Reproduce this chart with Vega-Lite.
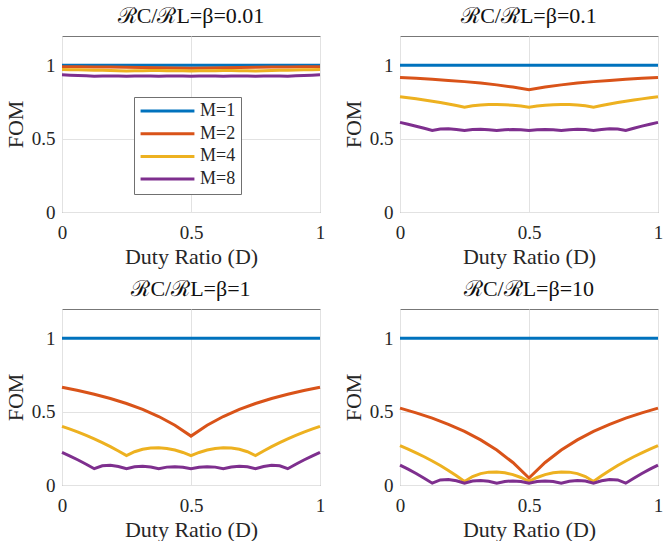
{
  "$schema": "https://vega.github.io/schema/vega-lite/v6.json",
  "padding": {"left": 3, "top": 4, "right": 0, "bottom": 0},
  "config": {
    "font": "Liberation Serif",
    "style": {"guide-label": {"font": "Liberation Serif", "fontSize": 19}, "guide-title": {"font": "Liberation Serif"}},
    "view": {"stroke": "#777777", "strokeWidth": 1},
    "axis": {
      "grid": true, "gridColor": "#e2e2e2", "gridWidth": 1,
      "ticks": false, "tickSize": 0, "domain": false,
      "labelFont": "Liberation Serif", "labelFontSize": 19, "labelColor": "#262626",
      "labelFlush": false, "labelOverlap": false, "format": "~g",
      "titleFont": "Liberation Serif", "titleFontSize": 22, "titleFontWeight": "normal", "titleColor": "#262626"
    },
    "axisX": {"labelPadding": 11, "titlePadding": 4, "labelFont": "Liberation Serif"},
    "axisY": {"labelPadding": 7, "titlePadding": 4, "labelFont": "Liberation Serif"},
    "title": {"font": "Liberation Serif", "fontSize": 22, "fontWeight": "normal", "color": "#111111", "offset": 8, "frame": "group", "anchor": "middle"}
  },
  "spacing": {"row": 9, "column": 14},
  "columns": 2,
  "data": {"name": "d"},
  "datasets": {
    "d": [
      {"b":0.01,"M":"M=1","D":0,"F":1},{"b":0.01,"M":"M=1","D":1,"F":1},
      {"b":0.01,"M":"M=2","D":0,"F":0.9902},{"b":0.01,"M":"M=2","D":0.0625,"F":0.9895},{"b":0.01,"M":"M=2","D":0.125,"F":0.9888},{"b":0.01,"M":"M=2","D":0.1875,"F":0.9879},{"b":0.01,"M":"M=2","D":0.25,"F":0.9869},{"b":0.01,"M":"M=2","D":0.3125,"F":0.9857},{"b":0.01,"M":"M=2","D":0.375,"F":0.9843},{"b":0.01,"M":"M=2","D":0.4375,"F":0.9826},{"b":0.01,"M":"M=2","D":0.5,"F":0.9804},{"b":0.01,"M":"M=2","D":0.5625,"F":0.9826},{"b":0.01,"M":"M=2","D":0.625,"F":0.9843},{"b":0.01,"M":"M=2","D":0.6875,"F":0.9857},{"b":0.01,"M":"M=2","D":0.75,"F":0.9869},{"b":0.01,"M":"M=2","D":0.8125,"F":0.9879},{"b":0.01,"M":"M=2","D":0.875,"F":0.9888},{"b":0.01,"M":"M=2","D":0.9375,"F":0.9895},{"b":0.01,"M":"M=2","D":1,"F":0.9902},
      {"b":0.01,"M":"M=4","D":0,"F":0.9712},{"b":0.01,"M":"M=4","D":0.03125,"F":0.9702},{"b":0.01,"M":"M=4","D":0.0625,"F":0.9692},{"b":0.01,"M":"M=4","D":0.09375,"F":0.9682},{"b":0.01,"M":"M=4","D":0.125,"F":0.967},{"b":0.01,"M":"M=4","D":0.15625,"F":0.9658},{"b":0.01,"M":"M=4","D":0.1875,"F":0.9645},{"b":0.01,"M":"M=4","D":0.21875,"F":0.9631},{"b":0.01,"M":"M=4","D":0.25,"F":0.9615},{"b":0.01,"M":"M=4","D":0.28125,"F":0.9628},{"b":0.01,"M":"M=4","D":0.3125,"F":0.9636},{"b":0.01,"M":"M=4","D":0.34375,"F":0.964},{"b":0.01,"M":"M=4","D":0.375,"F":0.9641},{"b":0.01,"M":"M=4","D":0.40625,"F":0.9639},{"b":0.01,"M":"M=4","D":0.4375,"F":0.9634},{"b":0.01,"M":"M=4","D":0.46875,"F":0.9626},{"b":0.01,"M":"M=4","D":0.5,"F":0.9615},{"b":0.01,"M":"M=4","D":0.53125,"F":0.9626},{"b":0.01,"M":"M=4","D":0.5625,"F":0.9634},{"b":0.01,"M":"M=4","D":0.59375,"F":0.9639},{"b":0.01,"M":"M=4","D":0.625,"F":0.9641},{"b":0.01,"M":"M=4","D":0.65625,"F":0.964},{"b":0.01,"M":"M=4","D":0.6875,"F":0.9636},{"b":0.01,"M":"M=4","D":0.71875,"F":0.9628},{"b":0.01,"M":"M=4","D":0.75,"F":0.9615},{"b":0.01,"M":"M=4","D":0.78125,"F":0.9631},{"b":0.01,"M":"M=4","D":0.8125,"F":0.9645},{"b":0.01,"M":"M=4","D":0.84375,"F":0.9658},{"b":0.01,"M":"M=4","D":0.875,"F":0.967},{"b":0.01,"M":"M=4","D":0.90625,"F":0.9682},{"b":0.01,"M":"M=4","D":0.9375,"F":0.9692},{"b":0.01,"M":"M=4","D":0.96875,"F":0.9702},{"b":0.01,"M":"M=4","D":1,"F":0.9712},
      {"b":0.01,"M":"M=8","D":0,"F":0.9352},{"b":0.01,"M":"M=8","D":0.03125,"F":0.9331},{"b":0.01,"M":"M=8","D":0.0625,"F":0.9309},{"b":0.01,"M":"M=8","D":0.09375,"F":0.9285},{"b":0.01,"M":"M=8","D":0.125,"F":0.9259},{"b":0.01,"M":"M=8","D":0.15625,"F":0.9276},{"b":0.01,"M":"M=8","D":0.1875,"F":0.9278},{"b":0.01,"M":"M=8","D":0.21875,"F":0.9272},{"b":0.01,"M":"M=8","D":0.25,"F":0.9259},{"b":0.01,"M":"M=8","D":0.28125,"F":0.927},{"b":0.01,"M":"M=8","D":0.3125,"F":0.9273},{"b":0.01,"M":"M=8","D":0.34375,"F":0.9269},{"b":0.01,"M":"M=8","D":0.375,"F":0.9259},{"b":0.01,"M":"M=8","D":0.40625,"F":0.9268},{"b":0.01,"M":"M=8","D":0.4375,"F":0.9271},{"b":0.01,"M":"M=8","D":0.46875,"F":0.9268},{"b":0.01,"M":"M=8","D":0.5,"F":0.9259},{"b":0.01,"M":"M=8","D":0.53125,"F":0.9268},{"b":0.01,"M":"M=8","D":0.5625,"F":0.9271},{"b":0.01,"M":"M=8","D":0.59375,"F":0.9268},{"b":0.01,"M":"M=8","D":0.625,"F":0.9259},{"b":0.01,"M":"M=8","D":0.65625,"F":0.9269},{"b":0.01,"M":"M=8","D":0.6875,"F":0.9273},{"b":0.01,"M":"M=8","D":0.71875,"F":0.927},{"b":0.01,"M":"M=8","D":0.75,"F":0.9259},{"b":0.01,"M":"M=8","D":0.78125,"F":0.9272},{"b":0.01,"M":"M=8","D":0.8125,"F":0.9278},{"b":0.01,"M":"M=8","D":0.84375,"F":0.9276},{"b":0.01,"M":"M=8","D":0.875,"F":0.9259},{"b":0.01,"M":"M=8","D":0.90625,"F":0.9285},{"b":0.01,"M":"M=8","D":0.9375,"F":0.9309},{"b":0.01,"M":"M=8","D":0.96875,"F":0.9331},{"b":0.01,"M":"M=8","D":1,"F":0.9352},

      {"b":0.1,"M":"M=1","D":0,"F":1},{"b":0.1,"M":"M=1","D":1,"F":1},
      {"b":0.1,"M":"M=2","D":0,"F":0.9167},{"b":0.1,"M":"M=2","D":0.0625,"F":0.9111},{"b":0.1,"M":"M=2","D":0.125,"F":0.9048},{"b":0.1,"M":"M=2","D":0.1875,"F":0.8974},{"b":0.1,"M":"M=2","D":0.25,"F":0.8889},{"b":0.1,"M":"M=2","D":0.3125,"F":0.8788},{"b":0.1,"M":"M=2","D":0.375,"F":0.8667},{"b":0.1,"M":"M=2","D":0.4375,"F":0.8519},{"b":0.1,"M":"M=2","D":0.5,"F":0.8333},{"b":0.1,"M":"M=2","D":0.5625,"F":0.8519},{"b":0.1,"M":"M=2","D":0.625,"F":0.8667},{"b":0.1,"M":"M=2","D":0.6875,"F":0.8788},{"b":0.1,"M":"M=2","D":0.75,"F":0.8889},{"b":0.1,"M":"M=2","D":0.8125,"F":0.8974},{"b":0.1,"M":"M=2","D":0.875,"F":0.9048},{"b":0.1,"M":"M=2","D":0.9375,"F":0.9111},{"b":0.1,"M":"M=2","D":1,"F":0.9167},
      {"b":0.1,"M":"M=4","D":0,"F":0.7857},{"b":0.1,"M":"M=4","D":0.03125,"F":0.7788},{"b":0.1,"M":"M=4","D":0.0625,"F":0.7714},{"b":0.1,"M":"M=4","D":0.09375,"F":0.7635},{"b":0.1,"M":"M=4","D":0.125,"F":0.7551},{"b":0.1,"M":"M=4","D":0.15625,"F":0.746},{"b":0.1,"M":"M=4","D":0.1875,"F":0.7363},{"b":0.1,"M":"M=4","D":0.21875,"F":0.7257},{"b":0.1,"M":"M=4","D":0.25,"F":0.7143},{"b":0.1,"M":"M=4","D":0.28125,"F":0.724},{"b":0.1,"M":"M=4","D":0.3125,"F":0.7299},{"b":0.1,"M":"M=4","D":0.34375,"F":0.7328},{"b":0.1,"M":"M=4","D":0.375,"F":0.7333},{"b":0.1,"M":"M=4","D":0.40625,"F":0.7316},{"b":0.1,"M":"M=4","D":0.4375,"F":0.7279},{"b":0.1,"M":"M=4","D":0.46875,"F":0.7221},{"b":0.1,"M":"M=4","D":0.5,"F":0.7143},{"b":0.1,"M":"M=4","D":0.53125,"F":0.7221},{"b":0.1,"M":"M=4","D":0.5625,"F":0.7279},{"b":0.1,"M":"M=4","D":0.59375,"F":0.7316},{"b":0.1,"M":"M=4","D":0.625,"F":0.7333},{"b":0.1,"M":"M=4","D":0.65625,"F":0.7328},{"b":0.1,"M":"M=4","D":0.6875,"F":0.7299},{"b":0.1,"M":"M=4","D":0.71875,"F":0.724},{"b":0.1,"M":"M=4","D":0.75,"F":0.7143},{"b":0.1,"M":"M=4","D":0.78125,"F":0.7257},{"b":0.1,"M":"M=4","D":0.8125,"F":0.7363},{"b":0.1,"M":"M=4","D":0.84375,"F":0.746},{"b":0.1,"M":"M=4","D":0.875,"F":0.7551},{"b":0.1,"M":"M=4","D":0.90625,"F":0.7635},{"b":0.1,"M":"M=4","D":0.9375,"F":0.7714},{"b":0.1,"M":"M=4","D":0.96875,"F":0.7788},{"b":0.1,"M":"M=4","D":1,"F":0.7857},
      {"b":0.1,"M":"M=8","D":0,"F":0.6111},{"b":0.1,"M":"M=8","D":0.03125,"F":0.5986},{"b":0.1,"M":"M=8","D":0.0625,"F":0.5852},{"b":0.1,"M":"M=8","D":0.09375,"F":0.5709},{"b":0.1,"M":"M=8","D":0.125,"F":0.5556},{"b":0.1,"M":"M=8","D":0.15625,"F":0.5654},{"b":0.1,"M":"M=8","D":0.1875,"F":0.567},{"b":0.1,"M":"M=8","D":0.21875,"F":0.5632},{"b":0.1,"M":"M=8","D":0.25,"F":0.5556},{"b":0.1,"M":"M=8","D":0.28125,"F":0.562},{"b":0.1,"M":"M=8","D":0.3125,"F":0.5636},{"b":0.1,"M":"M=8","D":0.34375,"F":0.5613},{"b":0.1,"M":"M=8","D":0.375,"F":0.5556},{"b":0.1,"M":"M=8","D":0.40625,"F":0.561},{"b":0.1,"M":"M=8","D":0.4375,"F":0.5626},{"b":0.1,"M":"M=8","D":0.46875,"F":0.5608},{"b":0.1,"M":"M=8","D":0.5,"F":0.5556},{"b":0.1,"M":"M=8","D":0.53125,"F":0.5608},{"b":0.1,"M":"M=8","D":0.5625,"F":0.5626},{"b":0.1,"M":"M=8","D":0.59375,"F":0.561},{"b":0.1,"M":"M=8","D":0.625,"F":0.5556},{"b":0.1,"M":"M=8","D":0.65625,"F":0.5613},{"b":0.1,"M":"M=8","D":0.6875,"F":0.5636},{"b":0.1,"M":"M=8","D":0.71875,"F":0.562},{"b":0.1,"M":"M=8","D":0.75,"F":0.5556},{"b":0.1,"M":"M=8","D":0.78125,"F":0.5632},{"b":0.1,"M":"M=8","D":0.8125,"F":0.567},{"b":0.1,"M":"M=8","D":0.84375,"F":0.5654},{"b":0.1,"M":"M=8","D":0.875,"F":0.5556},{"b":0.1,"M":"M=8","D":0.90625,"F":0.5709},{"b":0.1,"M":"M=8","D":0.9375,"F":0.5852},{"b":0.1,"M":"M=8","D":0.96875,"F":0.5986},{"b":0.1,"M":"M=8","D":1,"F":0.6111},

      {"b":1,"M":"M=1","D":0,"F":1},{"b":1,"M":"M=1","D":1,"F":1},
      {"b":1,"M":"M=2","D":0,"F":0.6667},{"b":1,"M":"M=2","D":0.0625,"F":0.6444},{"b":1,"M":"M=2","D":0.125,"F":0.619},{"b":1,"M":"M=2","D":0.1875,"F":0.5897},{"b":1,"M":"M=2","D":0.25,"F":0.5556},{"b":1,"M":"M=2","D":0.3125,"F":0.5152},{"b":1,"M":"M=2","D":0.375,"F":0.4667},{"b":1,"M":"M=2","D":0.4375,"F":0.4074},{"b":1,"M":"M=2","D":0.5,"F":0.3333},{"b":1,"M":"M=2","D":0.5625,"F":0.4074},{"b":1,"M":"M=2","D":0.625,"F":0.4667},{"b":1,"M":"M=2","D":0.6875,"F":0.5152},{"b":1,"M":"M=2","D":0.75,"F":0.5556},{"b":1,"M":"M=2","D":0.8125,"F":0.5897},{"b":1,"M":"M=2","D":0.875,"F":0.619},{"b":1,"M":"M=2","D":0.9375,"F":0.6444},{"b":1,"M":"M=2","D":1,"F":0.6667},
      {"b":1,"M":"M=4","D":0,"F":0.4},{"b":1,"M":"M=4","D":0.03125,"F":0.3806},{"b":1,"M":"M=4","D":0.0625,"F":0.36},{"b":1,"M":"M=4","D":0.09375,"F":0.3379},{"b":1,"M":"M=4","D":0.125,"F":0.3143},{"b":1,"M":"M=4","D":0.15625,"F":0.2889},{"b":1,"M":"M=4","D":0.1875,"F":0.2615},{"b":1,"M":"M=4","D":0.21875,"F":0.232},{"b":1,"M":"M=4","D":0.25,"F":0.2},{"b":1,"M":"M=4","D":0.28125,"F":0.2271},{"b":1,"M":"M=4","D":0.3125,"F":0.2436},{"b":1,"M":"M=4","D":0.34375,"F":0.2519},{"b":1,"M":"M=4","D":0.375,"F":0.2533},{"b":1,"M":"M=4","D":0.40625,"F":0.2486},{"b":1,"M":"M=4","D":0.4375,"F":0.2381},{"b":1,"M":"M=4","D":0.46875,"F":0.222},{"b":1,"M":"M=4","D":0.5,"F":0.2},{"b":1,"M":"M=4","D":0.53125,"F":0.222},{"b":1,"M":"M=4","D":0.5625,"F":0.2381},{"b":1,"M":"M=4","D":0.59375,"F":0.2486},{"b":1,"M":"M=4","D":0.625,"F":0.2533},{"b":1,"M":"M=4","D":0.65625,"F":0.2519},{"b":1,"M":"M=4","D":0.6875,"F":0.2436},{"b":1,"M":"M=4","D":0.71875,"F":0.2271},{"b":1,"M":"M=4","D":0.75,"F":0.2},{"b":1,"M":"M=4","D":0.78125,"F":0.232},{"b":1,"M":"M=4","D":0.8125,"F":0.2615},{"b":1,"M":"M=4","D":0.84375,"F":0.2889},{"b":1,"M":"M=4","D":0.875,"F":0.3143},{"b":1,"M":"M=4","D":0.90625,"F":0.3379},{"b":1,"M":"M=4","D":0.9375,"F":0.36},{"b":1,"M":"M=4","D":0.96875,"F":0.3806},{"b":1,"M":"M=4","D":1,"F":0.4},
      {"b":1,"M":"M=8","D":0,"F":0.2222},{"b":1,"M":"M=8","D":0.03125,"F":0.1971},{"b":1,"M":"M=8","D":0.0625,"F":0.1704},{"b":1,"M":"M=8","D":0.09375,"F":0.1418},{"b":1,"M":"M=8","D":0.125,"F":0.1111},{"b":1,"M":"M=8","D":0.15625,"F":0.1309},{"b":1,"M":"M=8","D":0.1875,"F":0.1339},{"b":1,"M":"M=8","D":0.21875,"F":0.1263},{"b":1,"M":"M=8","D":0.25,"F":0.1111},{"b":1,"M":"M=8","D":0.28125,"F":0.124},{"b":1,"M":"M=8","D":0.3125,"F":0.1273},{"b":1,"M":"M=8","D":0.34375,"F":0.1227},{"b":1,"M":"M=8","D":0.375,"F":0.1111},{"b":1,"M":"M=8","D":0.40625,"F":0.1219},{"b":1,"M":"M=8","D":0.4375,"F":0.1252},{"b":1,"M":"M=8","D":0.46875,"F":0.1216},{"b":1,"M":"M=8","D":0.5,"F":0.1111},{"b":1,"M":"M=8","D":0.53125,"F":0.1216},{"b":1,"M":"M=8","D":0.5625,"F":0.1252},{"b":1,"M":"M=8","D":0.59375,"F":0.1219},{"b":1,"M":"M=8","D":0.625,"F":0.1111},{"b":1,"M":"M=8","D":0.65625,"F":0.1227},{"b":1,"M":"M=8","D":0.6875,"F":0.1273},{"b":1,"M":"M=8","D":0.71875,"F":0.124},{"b":1,"M":"M=8","D":0.75,"F":0.1111},{"b":1,"M":"M=8","D":0.78125,"F":0.1263},{"b":1,"M":"M=8","D":0.8125,"F":0.1339},{"b":1,"M":"M=8","D":0.84375,"F":0.1309},{"b":1,"M":"M=8","D":0.875,"F":0.1111},{"b":1,"M":"M=8","D":0.90625,"F":0.1418},{"b":1,"M":"M=8","D":0.9375,"F":0.1704},{"b":1,"M":"M=8","D":0.96875,"F":0.1971},{"b":1,"M":"M=8","D":1,"F":0.2222},

      {"b":10,"M":"M=1","D":0,"F":1},{"b":10,"M":"M=1","D":1,"F":1},
      {"b":10,"M":"M=2","D":0,"F":0.5238},{"b":10,"M":"M=2","D":0.0625,"F":0.4921},{"b":10,"M":"M=2","D":0.125,"F":0.4558},{"b":10,"M":"M=2","D":0.1875,"F":0.4139},{"b":10,"M":"M=2","D":0.25,"F":0.3651},{"b":10,"M":"M=2","D":0.3125,"F":0.3074},{"b":10,"M":"M=2","D":0.375,"F":0.2381},{"b":10,"M":"M=2","D":0.4375,"F":0.1534},{"b":10,"M":"M=2","D":0.5,"F":0.0476},{"b":10,"M":"M=2","D":0.5625,"F":0.1534},{"b":10,"M":"M=2","D":0.625,"F":0.2381},{"b":10,"M":"M=2","D":0.6875,"F":0.3074},{"b":10,"M":"M=2","D":0.75,"F":0.3651},{"b":10,"M":"M=2","D":0.8125,"F":0.4139},{"b":10,"M":"M=2","D":0.875,"F":0.4558},{"b":10,"M":"M=2","D":0.9375,"F":0.4921},{"b":10,"M":"M=2","D":1,"F":0.5238},
      {"b":10,"M":"M=4","D":0,"F":0.2683},{"b":10,"M":"M=4","D":0.03125,"F":0.2447},{"b":10,"M":"M=4","D":0.0625,"F":0.2195},{"b":10,"M":"M=4","D":0.09375,"F":0.1926},{"b":10,"M":"M=4","D":0.125,"F":0.1638},{"b":10,"M":"M=4","D":0.15625,"F":0.1328},{"b":10,"M":"M=4","D":0.1875,"F":0.0994},{"b":10,"M":"M=4","D":0.21875,"F":0.0634},{"b":10,"M":"M=4","D":0.25,"F":0.0244},{"b":10,"M":"M=4","D":0.28125,"F":0.0574},{"b":10,"M":"M=4","D":0.3125,"F":0.0776},{"b":10,"M":"M=4","D":0.34375,"F":0.0877},{"b":10,"M":"M=4","D":0.375,"F":0.0894},{"b":10,"M":"M=4","D":0.40625,"F":0.0836},{"b":10,"M":"M=4","D":0.4375,"F":0.0709},{"b":10,"M":"M=4","D":0.46875,"F":0.0512},{"b":10,"M":"M=4","D":0.5,"F":0.0244},{"b":10,"M":"M=4","D":0.53125,"F":0.0512},{"b":10,"M":"M=4","D":0.5625,"F":0.0709},{"b":10,"M":"M=4","D":0.59375,"F":0.0836},{"b":10,"M":"M=4","D":0.625,"F":0.0894},{"b":10,"M":"M=4","D":0.65625,"F":0.0877},{"b":10,"M":"M=4","D":0.6875,"F":0.0776},{"b":10,"M":"M=4","D":0.71875,"F":0.0574},{"b":10,"M":"M=4","D":0.75,"F":0.0244},{"b":10,"M":"M=4","D":0.78125,"F":0.0634},{"b":10,"M":"M=4","D":0.8125,"F":0.0994},{"b":10,"M":"M=4","D":0.84375,"F":0.1328},{"b":10,"M":"M=4","D":0.875,"F":0.1638},{"b":10,"M":"M=4","D":0.90625,"F":0.1926},{"b":10,"M":"M=4","D":0.9375,"F":0.2195},{"b":10,"M":"M=4","D":0.96875,"F":0.2447},{"b":10,"M":"M=4","D":1,"F":0.2683},
      {"b":10,"M":"M=8","D":0,"F":0.1358},{"b":10,"M":"M=8","D":0.03125,"F":0.1079},{"b":10,"M":"M=8","D":0.0625,"F":0.0782},{"b":10,"M":"M=8","D":0.09375,"F":0.0464},{"b":10,"M":"M=8","D":0.125,"F":0.0123},{"b":10,"M":"M=8","D":0.15625,"F":0.0343},{"b":10,"M":"M=8","D":0.1875,"F":0.0377},{"b":10,"M":"M=8","D":0.21875,"F":0.0293},{"b":10,"M":"M=8","D":0.25,"F":0.0123},{"b":10,"M":"M=8","D":0.28125,"F":0.0267},{"b":10,"M":"M=8","D":0.3125,"F":0.0303},{"b":10,"M":"M=8","D":0.34375,"F":0.0252},{"b":10,"M":"M=8","D":0.375,"F":0.0123},{"b":10,"M":"M=8","D":0.40625,"F":0.0243},{"b":10,"M":"M=8","D":0.4375,"F":0.028},{"b":10,"M":"M=8","D":0.46875,"F":0.024},{"b":10,"M":"M=8","D":0.5,"F":0.0123},{"b":10,"M":"M=8","D":0.53125,"F":0.024},{"b":10,"M":"M=8","D":0.5625,"F":0.028},{"b":10,"M":"M=8","D":0.59375,"F":0.0243},{"b":10,"M":"M=8","D":0.625,"F":0.0123},{"b":10,"M":"M=8","D":0.65625,"F":0.0252},{"b":10,"M":"M=8","D":0.6875,"F":0.0303},{"b":10,"M":"M=8","D":0.71875,"F":0.0267},{"b":10,"M":"M=8","D":0.75,"F":0.0123},{"b":10,"M":"M=8","D":0.78125,"F":0.0293},{"b":10,"M":"M=8","D":0.8125,"F":0.0377},{"b":10,"M":"M=8","D":0.84375,"F":0.0343},{"b":10,"M":"M=8","D":0.875,"F":0.0123},{"b":10,"M":"M=8","D":0.90625,"F":0.0464},{"b":10,"M":"M=8","D":0.9375,"F":0.0782},{"b":10,"M":"M=8","D":0.96875,"F":0.1079},{"b":10,"M":"M=8","D":1,"F":0.1358}
    ]
  },
  "resolve": {"legend": {"color": "independent"}},
  "concat": [
    {
      "width": 258, "height": 176,
      "title": "ℛC/ℛL=β=0.01",
      "transform": [{"filter": "datum.b == 0.01"}],
      "mark": {"type": "line", "strokeWidth": 3},
      "encoding": {
        "x": {"field": "D", "type": "quantitative", "scale": {"domain": [0, 1], "nice": false}, "axis": {"values": [0, 0.5, 1], "format": "~g", "labelFont": "Liberation Serif", "title": "Duty Ratio (D)"}},
        "y": {"field": "F", "type": "quantitative", "scale": {"domain": [0, 1.2], "nice": false}, "axis": {"values": [0, 0.5, 1], "format": "~g", "labelFont": "Liberation Serif", "title": "FOM"}},
        "color": {"field": "M", "type": "nominal",
          "scale": {"domain": ["M=1", "M=2", "M=4", "M=8"], "range": ["#0072BD", "#D95319", "#EDB120", "#7E2F8E"]},
          "legend": {"orient": "none", "legendX": 72, "legendY": 61, "title": null, "symbolType": "stroke", "symbolSize": 2900, "symbolStrokeWidth": 3, "clipHeight": 18, "rowPadding": 4.7, "labelFont": "Liberation Serif", "labelFontSize": 18, "labelColor": "#262626", "labelOffset": 4, "strokeColor": "#707070", "fillColor": "#ffffff", "padding": 5}}
      }
    },
    {
      "width": 258, "height": 176,
      "title": "ℛC/ℛL=β=0.1",
      "transform": [{"filter": "datum.b == 0.1"}],
      "mark": {"type": "line", "strokeWidth": 3},
      "encoding": {
        "x": {"field": "D", "type": "quantitative", "scale": {"domain": [0, 1], "nice": false}, "axis": {"values": [0, 0.5, 1], "format": "~g", "labelFont": "Liberation Serif", "title": "Duty Ratio (D)"}},
        "y": {"field": "F", "type": "quantitative", "scale": {"domain": [0, 1.2], "nice": false}, "axis": {"values": [0, 0.5, 1], "format": "~g", "labelFont": "Liberation Serif", "title": "FOM"}},
        "color": {"field": "M", "type": "nominal", "scale": {"domain": ["M=1", "M=2", "M=4", "M=8"], "range": ["#0072BD", "#D95319", "#EDB120", "#7E2F8E"]}, "legend": null}
      }
    },
    {
      "width": 258, "height": 176,
      "title": "ℛC/ℛL=β=1",
      "transform": [{"filter": "datum.b == 1"}],
      "mark": {"type": "line", "strokeWidth": 3},
      "encoding": {
        "x": {"field": "D", "type": "quantitative", "scale": {"domain": [0, 1], "nice": false}, "axis": {"values": [0, 0.5, 1], "format": "~g", "labelFont": "Liberation Serif", "title": "Duty Ratio (D)"}},
        "y": {"field": "F", "type": "quantitative", "scale": {"domain": [0, 1.2], "nice": false}, "axis": {"values": [0, 0.5, 1], "format": "~g", "labelFont": "Liberation Serif", "title": "FOM"}},
        "color": {"field": "M", "type": "nominal", "scale": {"domain": ["M=1", "M=2", "M=4", "M=8"], "range": ["#0072BD", "#D95319", "#EDB120", "#7E2F8E"]}, "legend": null}
      }
    },
    {
      "width": 258, "height": 176,
      "title": "ℛC/ℛL=β=10",
      "transform": [{"filter": "datum.b == 10"}],
      "mark": {"type": "line", "strokeWidth": 3},
      "encoding": {
        "x": {"field": "D", "type": "quantitative", "scale": {"domain": [0, 1], "nice": false}, "axis": {"values": [0, 0.5, 1], "format": "~g", "labelFont": "Liberation Serif", "title": "Duty Ratio (D)"}},
        "y": {"field": "F", "type": "quantitative", "scale": {"domain": [0, 1.2], "nice": false}, "axis": {"values": [0, 0.5, 1], "format": "~g", "labelFont": "Liberation Serif", "title": "FOM"}},
        "color": {"field": "M", "type": "nominal", "scale": {"domain": ["M=1", "M=2", "M=4", "M=8"], "range": ["#0072BD", "#D95319", "#EDB120", "#7E2F8E"]}, "legend": null}
      }
    }
  ]
}
